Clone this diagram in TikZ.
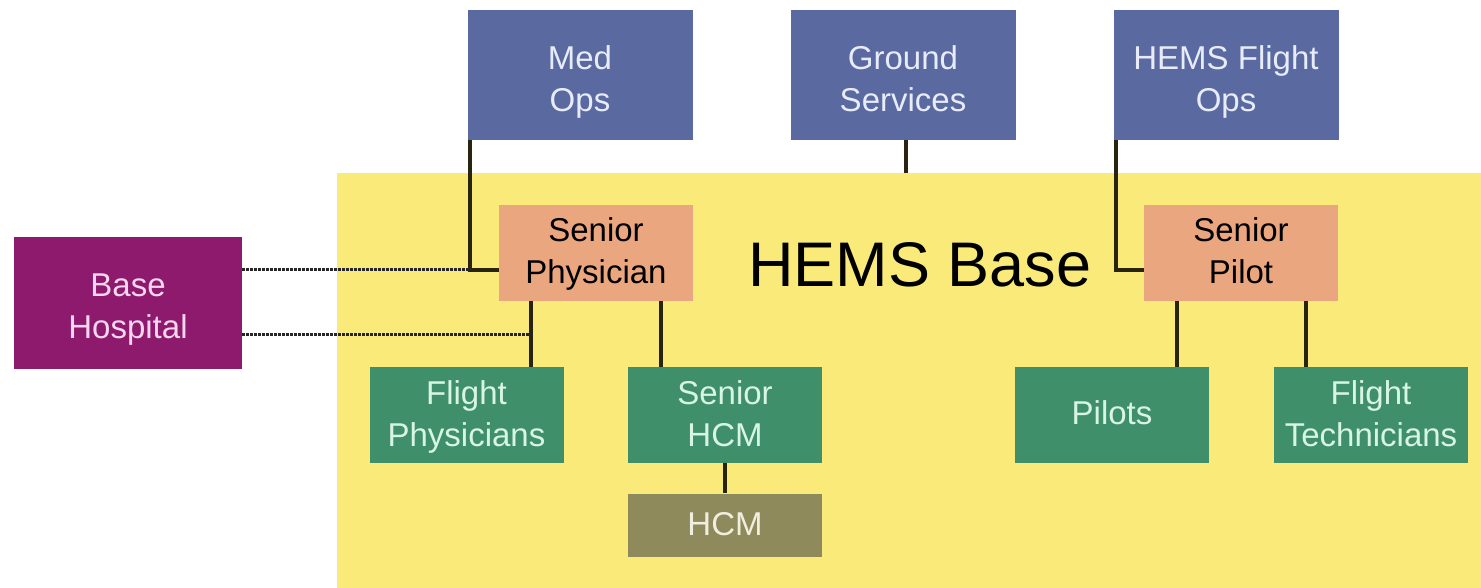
\documentclass[tikz,border=0pt]{standalone}
\usepackage{fontspec}
\setmainfont{Liberation Sans}
\definecolor{cblue}{RGB}{90,106,160}
\definecolor{csalmon}{RGB}{234,166,126}
\definecolor{cpurple}{RGB}{142,26,110}
\definecolor{cgreen}{RGB}{63,143,107}
\definecolor{colive}{RGB}{142,138,92}
\definecolor{cyellow}{RGB}{249,234,122}
\definecolor{tblue}{RGB}{232,236,250}
\definecolor{tgreen}{RGB}{216,245,228}
\definecolor{tpurple}{RGB}{248,214,238}
\definecolor{tolive}{RGB}{240,238,222}
\definecolor{cline}{RGB}{40,36,16}
\newcommand\mybtext[2]{\raisebox{#1}[\height][\depth]{\begin{tabular}{@{}c@{}}#2\end{tabular}}}
\begin{document}
\begin{tikzpicture}[x=1pt,y=-1pt,
  box/.style={rectangle, inner sep=0pt, align=center, font=\fontsize{33}{42}\selectfont},
  bluebox/.style={box, fill=cblue, text=tblue, minimum width=225pt, minimum height=130pt},
  salmonbox/.style={box, fill=csalmon, text=black, minimum width=194pt, minimum height=95pt},
  greenbox/.style={box, fill=cgreen, text=tgreen, minimum width=194pt, minimum height=96pt},
  conn/.style={draw=cline, line width=3.2pt},
  dotconn/.style={draw=black!85, line width=3pt, dash pattern=on 2.5pt off 1.5pt}
]
\useasboundingbox (0,0) rectangle (1481,588);
\fill[white] (0,0) rectangle (1481,588);
\fill[cyellow] (337,173) rectangle (1481,588);
\node[font=\fontsize{63}{70}\selectfont, text=black] (base) at (920,265) {HEMS Base};

\node[bluebox] (medops) at (580,75) {\mybtext{-7pt}{Med\\Ops}};
\node[bluebox] (ground) at (903,75) {\mybtext{-7pt}{Ground\\Services}};
\node[bluebox] (flightops) at (1226,75) {\mybtext{-7pt}{HEMS Flight\\Ops}};

\node[salmonbox] (sphys) at (596,253) {\mybtext{-1.5pt}{Senior\\Physician}};
\node[salmonbox] (spilot) at (1241,253) {\mybtext{-1.5pt}{Senior\\Pilot}};

\node[box, fill=cpurple, text=tpurple, minimum width=228pt, minimum height=132pt] (hosp) at (128,303) {\mybtext{-6.5pt}{Base\\Hospital}};

\node[greenbox] (fphys) at (466.5,415) {\mybtext{-2pt}{Flight\\Physicians}};
\node[greenbox] (shcm) at (725,415) {\mybtext{-2pt}{Senior\\HCM}};
\node[box, fill=colive, text=tolive, minimum width=194pt, minimum height=63pt] (hcm) at (725,525) {\mybtext{-2pt}{HCM}};
\node[greenbox] (pilots) at (1112,415) {\mybtext{-1.5pt}{Pilots}};
\node[greenbox] (ftech) at (1371,415) {\mybtext{-2pt}{Flight\\Technicians}};

% connectors
\coordinate (mjoin) at (470,270);
\coordinate (fjoin) at (531,334);
\draw[conn] (medops.south west -| mjoin) -- (mjoin) -- (mjoin -| sphys.west);
\draw[conn] (ground.south -| 906,0) -- (906,173);
\draw[conn] (flightops.south west -| 1116,0) |- (spilot.west |- 0,270);
\draw[conn] (sphys.south -| fjoin) -- (fphys.north -| fjoin);
\draw[conn] (sphys.south -| 661,0) -- (shcm.north -| 661,0);
\draw[conn] (shcm.south) -- (hcm.north);
\draw[conn] (spilot.south -| 1177,0) -- (pilots.north -| 1177,0);
\draw[conn] (spilot.south -| 1306,0) -- (ftech.north -| 1306,0);

\draw[dotconn] (hosp.east |- mjoin) -- (mjoin);
\draw[dotconn] (hosp.east |- fjoin) -- (fjoin);
\end{tikzpicture}
\end{document}
